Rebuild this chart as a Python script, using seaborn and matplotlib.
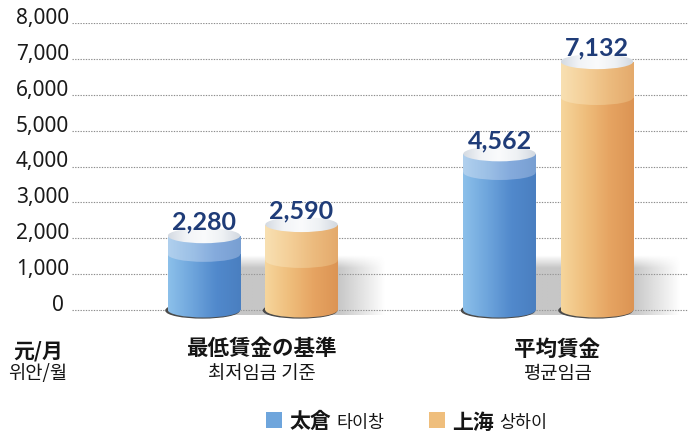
import numpy as np
import pandas as pd
import matplotlib
matplotlib.use('Agg')
import matplotlib.pyplot as plt
import matplotlib.transforms as mtransforms
from matplotlib.patches import Ellipse, Rectangle
from matplotlib.colors import LinearSegmentedColormap, to_rgb
import seaborn as sns

# data
categories = ['最低賃金の基準', '平均賃金']
categories_kr = ['최저임금 기준', '평균임금']
cities = ['太倉', '上海']
cities_kr = ['타이창', '상하이']
taicang = [2280, 4562]
shanghai = [2590, 7132]
yticks = [0, 1000, 2000, 3000, 4000, 5000, 6000, 7000, 8000]
unit_cn = '元/月'
unit_kr = '위안/월'

df = pd.DataFrame({
    'category': categories * 2,
    'city': [cities[0]] * len(categories) + [cities[1]] * len(categories),
    'wage': taicang + shanghai,
})

sns.set_theme(style='white')
plt.rcParams['font.family'] = ['Noto Sans CJK JP', 'DejaVu Sans']

W, H = 688, 439
fig = plt.figure(figsize=(W / 100, H / 100), dpi=100)
fig.patch.set_facecolor('white')
# 8000 at px 24, 0 at px 311 -> 35.9 px per 1000; axes goes down to -400
px_per_k = (311 - 24) / 8.0
ybot_px = 311 + 0.4 * px_per_k
ax = fig.add_axes([72 / W, 1 - ybot_px / H, 1 - 72 / W, (ybot_px - 24) / H])

# gradient colours (left -> right) for each city
body = {cities[0]: ['#8cc0ea', '#6ea5dc', '#5189cc', '#4a7fc0'],
        cities[1]: ['#f6d69c', '#efbe7c', '#e6a462', '#dc9454']}
band = {cities[0]: ['#b0d0ee', '#9cc0e6', '#84aadc', '#789fd2'],
        cities[1]: ['#f8e0b2', '#f4cf98', '#ecbb7e', '#e4aa6c']}
cap = ['#d4dae2', '#f2f4f7', '#fafbfc', '#eef1f4', '#d2d8e0']
band_h = {cities[0]: 520, cities[1]: 1000}
palette = {c: body[c][1] for c in cities}

sns.barplot(data=df, x='category', y='wage', hue='city', palette=palette,
            width=0.66, gap=0.257, errorbar=None, legend=False, ax=ax, zorder=3)


def grad(artist, colors, x0, x1, y0, y1, z):
    cmap = LinearSegmentedColormap.from_list('g', colors)
    img = ax.imshow(np.linspace(0, 1, 128)[None, :], cmap=cmap, extent=[x0, x1, y0, y1],
                    aspect='auto', origin='lower', interpolation='bilinear', zorder=z)
    img.set_clip_path(artist)
    return img


def shadow(x0, x1, fade, z):
    ys = np.linspace(-150, 1500, 80)
    xs = np.linspace(x0, x1 + fade, 120)
    ay = np.clip((1500 - ys) / 350, 0, 1)
    ax_ = np.clip((x1 + fade - xs) / fade, 0, 1)
    a = ay[:, None] * ax_[None, :] * 0.6
    rgba = np.zeros((len(ys), len(xs), 4))
    rgba[..., :3] = to_rgb('#a0a0a0')
    rgba[..., 3] = a
    ax.imshow(rgba, extent=[x0, x1 + fade, -150, 1500], aspect='auto', origin='lower',
              interpolation='bilinear', zorder=z)


eh = 15 / px_per_k * 1000  # ellipse height in data units
bars = {c: list(cont) for c, cont in zip(cities, ax.containers)}

for i in range(len(categories)):
    b0, b1 = bars[cities[0]][i], bars[cities[1]][i]
    shadow(b0.get_x() + b0.get_width() / 2, b1.get_x() + b1.get_width(), 0.16, 1)

for city in cities:
    for bar in bars[city]:
        x0, w = bar.get_x(), bar.get_width()
        xc = x0 + w / 2
        v = bar.get_height()
        top = v - eh / 2
        bar.set_height(top)
        bar.set_edgecolor('none')
        # thin dark rim under the base
        ax.add_patch(Ellipse((xc - w * 0.02, -12), w * 1.01, eh, color='#4a4a4a', zorder=2.6))
        base = Ellipse((xc, 0), w, eh, transform=ax.transData)
        grad(base, body[city], x0, x0 + w, -eh, eh, 2.8)
        grad(bar, body[city], x0, x0 + w, 0, top, 3.1)
        bh = band_h[city]
        b_el = Ellipse((xc, top - bh), w, eh, transform=ax.transData)
        grad(b_el, band[city], x0, x0 + w, top - bh - eh, top, 3.2)
        b_rect = Rectangle((x0, top - bh), w, bh, transform=ax.transData)
        grad(b_rect, band[city], x0, x0 + w, top - bh, top, 3.3)
        t_el = Ellipse((xc, top), w, eh, transform=ax.transData)
        grad(t_el, cap, x0, x0 + w, top - eh, top + eh, 3.4)
        ax.text(xc, v + 190, f'{int(round(v)):,}', ha='center', va='center', fontsize=18,
                weight='bold', color='#1f3c78', family=['Lato', 'DejaVu Sans'], zorder=5)

ax.set_xlim((72 - 252.75) / 295.5, (688 - 252.75) / 295.5)
ax.set_ylim(-400, 8000)
ax.set_yticks(yticks)
ax.set_yticklabels([f'{v:,}' if v else '0 ' for v in yticks], fontsize=15,
                   family='Noto Sans', color='#1a1a1a')
for lab in ax.get_yticklabels():
    lab.set_verticalalignment('baseline')
ax.tick_params(axis='y', length=0, pad=2)
ax.tick_params(axis='x', length=0, labelbottom=False)
ax.set_xlabel('')
ax.set_ylabel('')
ax.grid(axis='y', linestyle=(0, (1.2, 1.2)), color='#8c8c8c', linewidth=0.8, zorder=0)
ax.set_axisbelow(True)
for s in ax.spines.values():
    s.set_visible(False)

# category labels under the groups
trans = mtransforms.blended_transform_factory(ax.transData, fig.transFigure)
for i, (jp, kr) in enumerate(zip(categories, categories_kr)):
    ax.text(i + 0.03, 1 - 349 / H, jp, transform=trans, ha='center', va='center',
            fontsize=15.5, weight='bold', color='#151515')
    ax.text(i + 0.03, 1 - 374 / H, kr, transform=trans, ha='center', va='center',
            fontsize=13.5, color='#151515')

fig.text(38 / W, 1 - 351 / H, unit_cn, ha='center', va='center', fontsize=15,
         weight='bold', color='#151515')
fig.text(38 / W, 1 - 374 / H, unit_kr, ha='center', va='center', fontsize=13.5,
         color='#151515')

# legend
leg_x = [266, 429]
for city, kr, lx in zip(cities, cities_kr, leg_x):
    fig.add_artist(Rectangle((lx / W, 1 - 429 / H), 16 / W, 16 / H, transform=fig.transFigure,
                             color=body[city][1], lw=0))
    fig.text((lx + 23) / W, 1 - 422 / H, city, ha='left', va='center', fontsize=15,
             weight='bold', color='#151515')
    fig.text((lx + 70) / W, 1 - 423 / H, kr, ha='left', va='center', fontsize=12.5,
             color='#151515')

fig.savefig('out.png', dpi=100, facecolor='white')
